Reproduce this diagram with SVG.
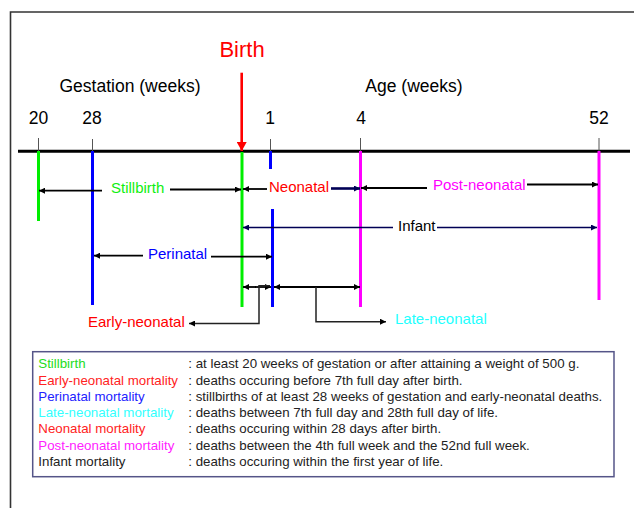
<svg xmlns="http://www.w3.org/2000/svg" width="634" height="508" viewBox="0 0 634 508">
<defs>
<marker id="ab" markerUnits="userSpaceOnUse" markerWidth="7" markerHeight="6" refX="6" refY="3" orient="auto"><path d="M0,0 L6,3 L0,6 z" fill="#000"/></marker>
<marker id="an" markerUnits="userSpaceOnUse" markerWidth="7" markerHeight="6" refX="6" refY="3" orient="auto"><path d="M0,0 L6,3 L0,6 z" fill="#000055"/></marker>
<marker id="ar" markerUnits="userSpaceOnUse" markerWidth="10" markerHeight="10" refX="9" refY="5" orient="auto"><path d="M0,0 L9,5 L0,10 z" fill="#ff0000"/></marker>
</defs>
<style>
text{font-family:"Liberation Sans",Arial,sans-serif}
.lbl{font-size:15px}
.hd{font-size:17.5px;fill:#000}
.num{font-size:17.5px;fill:#000;text-anchor:middle}
.leg{font-size:13.3px}
.c{fill:none;stroke:#000;stroke-width:1.8}
.cn{fill:none;stroke:#000055;stroke-width:1.5}
.tick{stroke:#555;stroke-width:1}
.v{stroke-width:3}
</style>
<rect x="0" y="0" width="634" height="508" fill="#fff"/>
<path d="M10.5,640 V12 H640" fill="none" stroke="#333" stroke-width="1.6"/>

<g id="header">
<text x="242" y="57" font-size="22" fill="#ff0000" text-anchor="middle">Birth</text>
<text class="hd" x="130" y="91.5" text-anchor="middle">Gestation (weeks)</text>
<text class="hd" x="414" y="91.5" text-anchor="middle">Age (weeks)</text>
<text class="num" x="38.5" y="124">20</text>
<text class="num" x="92" y="124">28</text>
<text class="num" x="270" y="124">1</text>
<text class="num" x="361" y="124">4</text>
<text class="num" x="599" y="124">52</text>
</g>

<g id="axis">
<line x1="18" y1="151.3" x2="630" y2="151.3" stroke="#000" stroke-width="3"/>
<line class="tick" x1="38.5" y1="138" x2="38.5" y2="151"/>
<line class="tick" x1="92.5" y1="139" x2="92.5" y2="151"/>
<line class="tick" x1="270.5" y1="139" x2="270.5" y2="151"/>
<line class="tick" x1="360.5" y1="138" x2="360.5" y2="151"/>
<line class="tick" x1="599" y1="138" x2="599" y2="151"/>
<line x1="241.7" y1="72.7" x2="241.7" y2="151" stroke="#ff0000" stroke-width="2.6" marker-end="url(#ar)"/>
</g>

<g id="markers">
<line class="v" x1="38.5" y1="151" x2="38.5" y2="221" stroke="#00ee00"/>
<line class="v" x1="92.5" y1="151" x2="92.5" y2="305" stroke="#0000ff"/>
<line class="v" x1="242" y1="152" x2="242" y2="307" stroke="#00ee00"/>
<line class="v" x1="270.5" y1="151" x2="270.5" y2="169" stroke="#0000ff"/>
<line class="v" x1="272.5" y1="209" x2="272.5" y2="307" stroke="#0000ff"/>
<line class="v" x1="360.5" y1="151" x2="360.5" y2="307" stroke="#ff00ff"/>
<line class="v" x1="599" y1="151" x2="599" y2="300" stroke="#ff00ff"/>
</g>

<g id="connectors">
<line class="c" x1="102" y1="190.7" x2="39" y2="190.7" marker-end="url(#ab)"/>
<line class="c" x1="170" y1="189.5" x2="241" y2="189.5" marker-end="url(#ab)"/>
<line class="c" x1="267" y1="189" x2="243" y2="189" marker-end="url(#ab)"/>
<line x1="331" y1="188.5" x2="360" y2="188.5" fill="none" stroke="#000055" stroke-width="2.6" marker-end="url(#an)"/>
<line class="c" x1="427" y1="188" x2="361" y2="188" marker-end="url(#ab)"/>
<line class="c" x1="527" y1="184.5" x2="598" y2="184.5" marker-end="url(#ab)"/>
<line class="cn" x1="393" y1="227.5" x2="243" y2="227.5" marker-end="url(#an)"/>
<line class="cn" x1="437" y1="227.5" x2="597" y2="227.5" marker-end="url(#an)"/>
<line class="c" x1="143" y1="255.7" x2="94" y2="255.7" marker-end="url(#ab)"/>
<line class="c" x1="211" y1="256.7" x2="272" y2="256.7" marker-end="url(#ab)"/>
<line class="c" x1="256" y1="287" x2="243" y2="287" marker-end="url(#ab)"/>
<line class="c" x1="256" y1="287" x2="271" y2="287" marker-end="url(#ab)"/>
<line class="c" x1="316" y1="287" x2="274" y2="287" marker-end="url(#ab)"/>
<line class="c" x1="316" y1="287" x2="360" y2="287" marker-end="url(#ab)"/>
<path d="M270,285.7 H259 V323.5 H189" fill="none" stroke="#222" stroke-width="1.5" marker-end="url(#ab)"/>
<path d="M316,287 V321.7 H386" fill="none" stroke="#222" stroke-width="1.5" marker-end="url(#ab)"/>
</g>

<g id="labels">
<text class="lbl" x="111" y="193" fill="#11ee11">Stillbirth</text>
<text class="lbl" x="269" y="192" fill="#ff0000">Neonatal</text>
<text class="lbl" x="433" y="190" fill="#ff00ff">Post-neonatal</text>
<text class="lbl" x="398" y="230.5" fill="#000">Infant</text>
<text class="lbl" x="148" y="259.3" fill="#0000ff">Perinatal</text>
<text class="lbl" x="88" y="327.3" fill="#ff0000">Early-neonatal</text>
<text class="lbl" x="395" y="324.3" fill="#22ffff">Late-neonatal</text>
</g>

<g id="legend">
<rect x="32.7" y="351.7" width="581.3" height="125" fill="#fff" stroke="#555588" stroke-width="1.5"/>
<text class="leg" x="38.3" y="368" fill="#22dd22">Stillbirth</text>
<text class="leg" x="38.3" y="384.5" fill="#ff2222">Early-neonatal mortality</text>
<text class="leg" x="38.3" y="400.5" fill="#2222ff">Perinatal mortality</text>
<text class="leg" x="38.3" y="416.5" fill="#33ffff">Late-neonatal mortality</text>
<text class="leg" x="38.3" y="433" fill="#ff2222">Neonatal mortality</text>
<text class="leg" x="38.3" y="449.5" fill="#ff22ff">Post-neonatal mortality</text>
<text class="leg" x="38.3" y="466" fill="#222">Infant mortality</text>
<text class="leg" x="188.3" y="368" fill="#222">: at least 20 weeks of gestation or after attaining a weight of 500 g.</text>
<text class="leg" x="188.3" y="384.5" fill="#222">: deaths occuring before 7th full day after birth.</text>
<text class="leg" x="188.3" y="400.5" fill="#222">: stillbirths of at least 28 weeks of gestation and early-neonatal deaths.</text>
<text class="leg" x="188.3" y="416.5" fill="#222">: deaths between 7th full day and 28th full day of life.</text>
<text class="leg" x="188.3" y="433" fill="#222">: deaths occuring within 28 days after birth.</text>
<text class="leg" x="188.3" y="449.5" fill="#222">: deaths between the 4th full week and the 52nd full week.</text>
<text class="leg" x="188.3" y="466" fill="#222">: deaths occuring within the first year of life.</text>
</g>
</svg>
